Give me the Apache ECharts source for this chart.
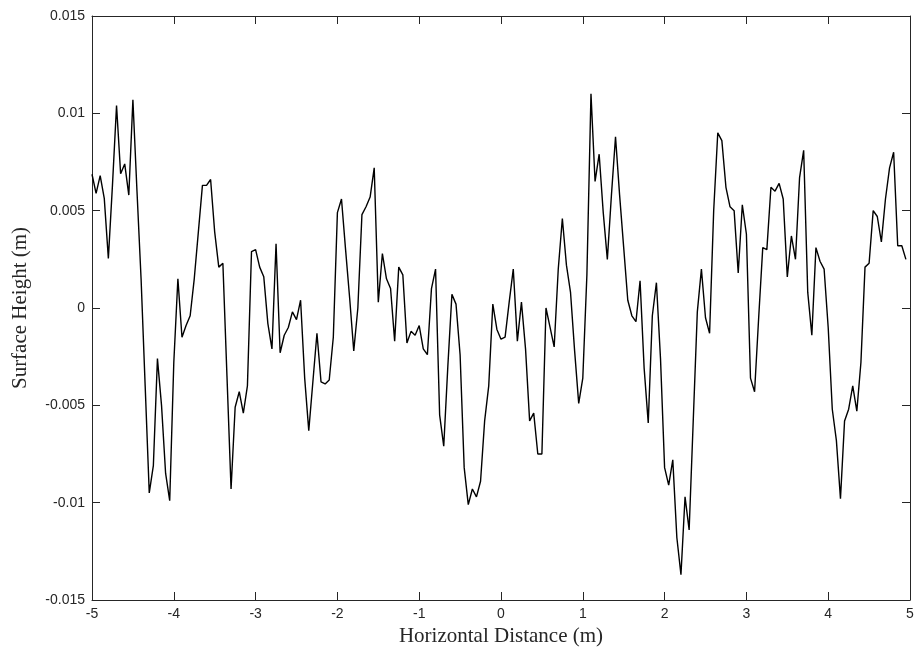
<!DOCTYPE html>
<html>
<head>
<meta charset="utf-8">
<script src="https://cdn.jsdelivr.net/npm/echarts@6/dist/echarts.min.js"></script>
<style>
  html, body { margin: 0; padding: 0; background: #ffffff; }
  #chart { width: 919px; height: 653px; }
</style>
</head>
<body>
<div id="chart"></div>
<script>
// Surface profile: heights (m) sampled every 0.05 m starting at -5 m
const xStart = -5;
const xStep = 0.05;
const surfaceHeight = [
  0.00687, 0.00589, 0.0068, 0.00563, 0.00255, 0.0063, 0.0104, 0.0069, 0.0074, 0.0058,
  0.0107, 0.0060, 0.0015, -0.0040, -0.0095, -0.0081, -0.0026, -0.0050, -0.0085, -0.0099,
  -0.0028, 0.0015, -0.0015, -0.0009, -0.0004, 0.0015, 0.0039, 0.0063, 0.0063, 0.0066,
  0.0039, 0.0021, 0.0023, -0.0035, -0.0093, -0.0051, -0.0043, -0.0054, -0.0040, 0.0029,
  0.0030, 0.0021, 0.0016, -0.0008, -0.0021, 0.0033, -0.0023, -0.0014, -0.0010, -0.0002,
  -0.0006, 0.0004, -0.0036, -0.0063, -0.0038, -0.0013, -0.0038, -0.0039, -0.0037, -0.0015,
  0.0049, 0.0056, 0.0030, 0.0005, -0.0022, 0.0000, 0.0048, 0.0052, 0.0057, 0.0072,
  0.0003, 0.0028, 0.0015, 0.0010, -0.0017, 0.0021, 0.0017, -0.0018, -0.0012, -0.0014,
  -0.0009, -0.0021, -0.0024, 0.0010, 0.0020, -0.0055, -0.0071, -0.0030, 0.0007, 0.0002,
  -0.0024, -0.0082, -0.0101, -0.0093, -0.0097, -0.0089, -0.0058, -0.0040, 0.0002, -0.0011,
  -0.0016, -0.0015, 0.0003, 0.0020, -0.0017, 0.0003, -0.0021, -0.0058, -0.0054, -0.0075,
  -0.0075, 0.0000, -0.0010, -0.0020, 0.0020, 0.0046, 0.0022, 0.0008, -0.0022, -0.0049,
  -0.0036, 0.0017, 0.0110, 0.0065, 0.0079, 0.0049, 0.0025, 0.0058, 0.0088, 0.0058,
  0.0031, 0.0004, -0.0004, -0.0007, 0.0014, -0.0031, -0.0059, -0.0004, 0.0013, -0.0026,
  -0.0082, -0.0091, -0.0078, -0.0118, -0.0137, -0.0097, -0.0114, -0.0058, -0.0002, 0.0020,
  -0.0005, -0.0013, 0.0050, 0.0090, 0.0086, 0.0062, 0.0052, 0.0050, 0.0018, 0.0053,
  0.0038, -0.0036, -0.0043, -0.0005, 0.0031, 0.0030, 0.0062, 0.0060, 0.0064, 0.0056,
  0.0016, 0.0037, 0.0025, 0.0067, 0.0081, 0.0008, -0.0014, 0.0031, 0.0024, 0.0020,
  -0.0010, -0.0052, -0.0068, -0.0098, -0.0058, -0.0052, -0.0040, -0.0053, -0.0028, 0.0021,
  0.0023, 0.0050, 0.0047, 0.0034, 0.0056, 0.0072, 0.0080, 0.0032, 0.0032, 0.0025
];
const xLimits = [-5, 5];
const yLimits = [-0.015, 0.015];
const xTickStep = 1;
const yTickStep = 0.005;
const xTitle = 'Horizontal Distance (m)';
const yTitle = 'Surface Height (m)';

const points = surfaceHeight.map((h, i) => [+(xStart + i * xStep).toFixed(2), h]);

const axisColor = '#262626';
const tickFont = { color: axisColor, fontSize: 14, fontFamily: 'Liberation Sans, Arial, sans-serif' };
const titleFont = { color: axisColor, fontSize: 21, fontFamily: 'Liberation Serif, Times New Roman, serif' };
const fmt = v => String(+v.toFixed(3));

// Box-style frame: bottom/left axes carry labels, top/right only ticks
function frameAxis(extra) {
  return Object.assign({
    type: 'value',
    axisLine: { show: true, onZero: false, lineStyle: { color: axisColor, width: 1 } },
    axisTick: { show: true, inside: true, length: 8, lineStyle: { color: axisColor } },
    splitLine: { show: false }
  }, extra);
}

const chart = echarts.init(document.getElementById('chart'), null, { renderer: 'canvas' });
chart.setOption({
  animation: false,
  backgroundColor: '#ffffff',
  grid: { left: 92, right: 9, top: 16, bottom: 53, show: false },
  xAxis: [
    frameAxis({
      min: xLimits[0], max: xLimits[1], interval: xTickStep, position: 'bottom',
      name: xTitle, nameLocation: 'middle', nameGap: 23, nameTextStyle: titleFont,
      axisLabel: Object.assign({ margin: 7, formatter: fmt }, tickFont)
    }),
    frameAxis({
      min: xLimits[0], max: xLimits[1], interval: xTickStep, position: 'top',
      axisLabel: { show: false }
    })
  ],
  yAxis: [
    frameAxis({
      min: yLimits[0], max: yLimits[1], interval: yTickStep, position: 'left',
      name: yTitle, nameLocation: 'middle', nameGap: 61, nameRotate: 90, nameTextStyle: titleFont,
      axisLabel: Object.assign({ margin: 7, formatter: fmt }, tickFont)
    }),
    frameAxis({
      min: yLimits[0], max: yLimits[1], interval: yTickStep, position: 'right',
      axisLabel: { show: false }
    })
  ],
  series: [
    {
      type: 'line',
      xAxisIndex: 0,
      yAxisIndex: 0,
      data: points,
      showSymbol: false,
      symbol: 'none',
      lineStyle: { color: '#000000', width: 1.4 },
      z: 3
    }
  ]
});
</script>
</body>
</html>
